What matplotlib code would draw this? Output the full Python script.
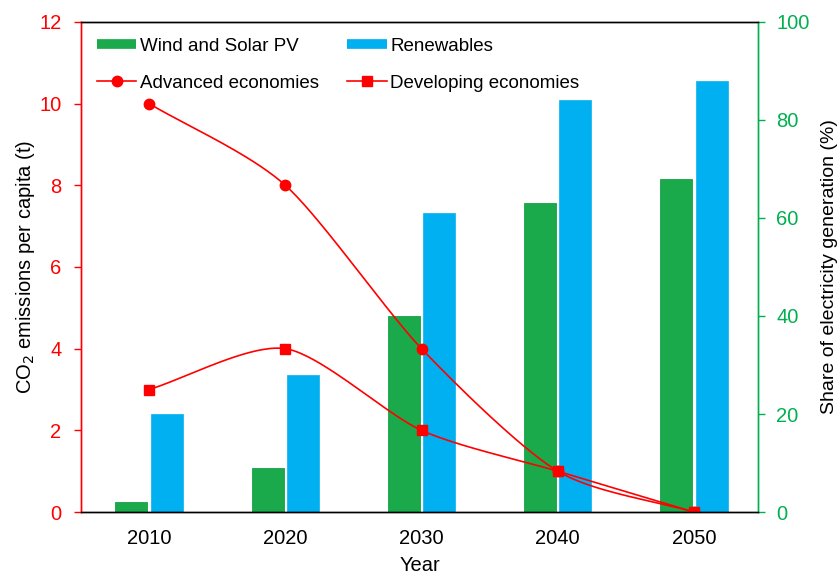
import numpy as np
import matplotlib.pyplot as plt
from matplotlib.lines import Line2D

plt.rcParams['font.family'] = ['Liberation Sans', 'DejaVu Sans']

years = ['2010', '2020', '2030', '2040', '2050']
wind_solar = [2, 9, 40, 63, 68]          # share of generation (%)
renewables = [20, 28, 61, 84, 88]        # share of generation (%)
advanced = [10.0, 8.0, 4.0, 1.0, 0.0]    # t CO2 per capita
developing = [3.0, 4.0, 2.0, 1.0, 0.0]   # t CO2 per capita

RED = '#FF0000'
GREEN_AX = '#00B050'
GREEN_BAR = '#1BAA4B'
BLUE_BAR = '#00B0F0'


def smooth(x, y, k=0.13, n=40):
    # cardinal-spline smoothed line through the points
    x = np.asarray(x, float)
    y = np.asarray(y, float)
    px = np.concatenate([[2 * x[0] - x[1]], x, [2 * x[-1] - x[-2]]])
    py = np.concatenate([[2 * y[0] - y[1]], y, [2 * y[-1] - y[-2]]])
    xs, ys = [], []
    t = np.linspace(0, 1, n)
    for i in range(1, len(px) - 2):
        p0, p1, p2, p3 = (np.array([px[j], py[j]]) for j in range(i - 1, i + 3))
        c1 = p1 + (p2 - p0) * k
        c2 = p2 - (p3 - p1) * k
        b = ((1 - t) ** 3)[:, None] * p1 + (3 * (1 - t) ** 2 * t)[:, None] * c1 \
            + (3 * (1 - t) * t ** 2)[:, None] * c2 + (t ** 3)[:, None] * p2
        xs.append(b[:, 0])
        ys.append(b[:, 1])
    return np.concatenate(xs), np.concatenate(ys)


fig = plt.figure(figsize=(8.4, 5.76), dpi=100)
ax = fig.add_axes([0.0964, 0.111, 0.806, 0.851])
ax2 = ax.twinx()

x = np.arange(len(years))
w = 0.235
ax2.bar(x - 0.13, wind_solar, w, color=GREEN_BAR, edgecolor='#16A044', linewidth=0.6)
ax2.bar(x + 0.13, renewables, w, color=BLUE_BAR, edgecolor='#19B8F2', linewidth=0.6)

# emission lines sit above the bars
ax.set_zorder(ax2.get_zorder() + 1)
ax.patch.set_visible(False)

sx, sy = smooth(x, advanced)
ax.plot(sx, sy, color=RED, lw=1.2)
ax.plot(x, advanced, 'o', color=RED, ms=7.5)
sx, sy = smooth(x, developing)
ax.plot(sx, sy, color=RED, lw=1.2)
ax.plot(x, developing, 's', color=RED, ms=7.5)

ax.set_xlim(-0.5, 4.47)
ax.set_ylim(0, 12)
ax2.set_ylim(0, 100)
ax.set_yticks(np.arange(0, 13, 2))
ax2.set_yticks(np.arange(0, 101, 20))
ax.set_xticks(x)
ax.set_xticklabels(years)

fs = 14.5
ax.tick_params(axis='x', length=0, labelsize=fs, pad=12)
ax.tick_params(axis='y', colors=RED, labelsize=fs, direction='out', length=5, width=1, pad=9)
ax2.tick_params(axis='y', colors=GREEN_AX, labelsize=fs, direction='out', length=5, width=1, pad=8)
ax2.tick_params(axis='x', length=0)

for a in (ax, ax2):
    a.spines['left'].set_color(RED)
    a.spines['right'].set_color(GREEN_AX)
    a.spines['top'].set_color('black')
    a.spines['bottom'].set_color('black')
    for s in a.spines.values():
        s.set_linewidth(1.0)

ax.set_xlabel('Year', fontsize=fs, labelpad=6)
ax.set_ylabel('CO$_2$ emissions per capita (t)', fontsize=fs, labelpad=2)
ax2.set_ylabel('Share of electricity generation (%)', fontsize=14, rotation=90, labelpad=8)

handles = [
    Line2D([], [], color=GREEN_BAR, lw=7, solid_capstyle='butt'),
    Line2D([], [], color=RED, lw=1.2, marker='o', ms=7.5),
    Line2D([], [], color=BLUE_BAR, lw=7, solid_capstyle='butt'),
    Line2D([], [], color=RED, lw=1.2, marker='s', ms=7.5),
]
labels = ['Wind and Solar PV', 'Advanced economies', 'Renewables', 'Developing economies']
ax.legend(handles, labels, ncol=2, loc='upper left', bbox_to_anchor=(0.0, 1.0),
          frameon=False, fontsize=13.5, handlelength=2.1, handletextpad=0.2,
          columnspacing=1.5, labelspacing=1.05, borderaxespad=0.45)

fig.savefig('out.png', dpi=100)
